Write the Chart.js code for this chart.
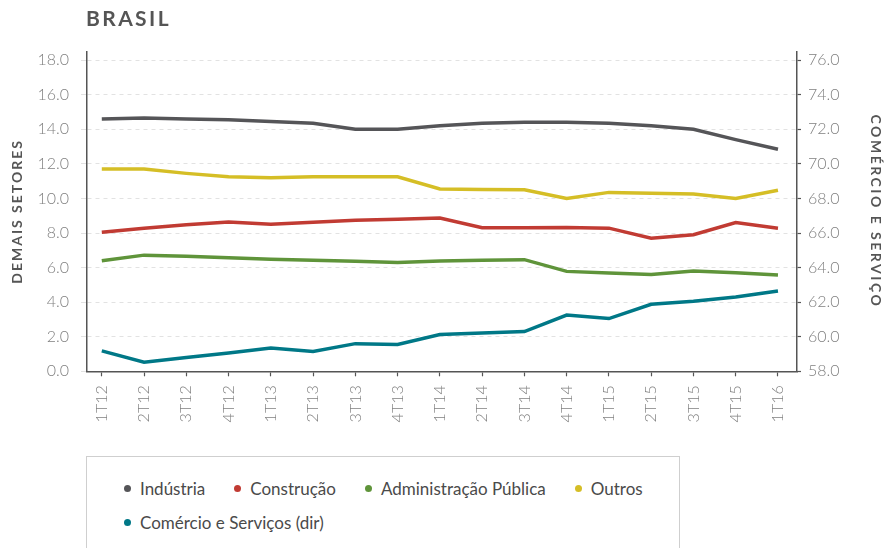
<!DOCTYPE html>
<html>
<head>
<meta charset="utf-8">
<script src="https://cdn.jsdelivr.net/npm/chart.js@4/dist/chart.umd.min.js"></script>
<style>
  body { margin: 0; background: #fff; font-family: Lato, "Open Sans", sans-serif; }
  #wrap { position: relative; width: 885px; height: 548px; overflow: hidden; }
  #title { position: absolute; left: 86px; top: 5px; font-size: 21px; font-weight: 700; color: #555; letter-spacing: 2.4px; }
  #chart { position: absolute; left: 0; top: 0; }
  #legend {
    position: absolute; left: 86px; top: 456px; width: 555px; height: 120px;
    border: 1px solid #cfcfcf; padding: 21px 0 0 37px;
    display: flex; flex-wrap: wrap; column-gap: 29px; row-gap: 14px; align-content: flex-start;
  }
  .item { display: flex; align-items: center; font-size: 17px; color: #4a4a4a; height: 20px; }
  .dot { width: 7px; height: 7px; border-radius: 50%; margin-right: 9px; }
</style>
</head>
<body>
<div id="wrap">
  <canvas id="chart" width="885" height="450"></canvas>
  <div id="title">BRASIL</div>
  <div id="legend"></div>
</div>
<script>
const labels = ['1T12','2T12','3T12','4T12','1T13','2T13','3T13','4T13','1T14','2T14','3T14','4T14','1T15','2T15','3T15','4T15','1T16']

// left axis (demais setores)
const industria = [14.6, 14.65, 14.6, 14.55, 14.45, 14.35, 14.0, 14.0, 14.2, 14.35, 14.4, 14.4, 14.35, 14.2, 14.0, 13.4, 12.85]
const construcao = [8.05, 8.27, 8.48, 8.63, 8.5, 8.62, 8.74, 8.8, 8.87, 8.3, 8.3, 8.32, 8.28, 7.7, 7.9, 8.6, 8.28]
const admPublica = [6.39, 6.72, 6.65, 6.57, 6.48, 6.42, 6.36, 6.3, 6.38, 6.42, 6.46, 5.78, 5.68, 5.6, 5.8, 5.7, 5.57]
const outros = [11.7, 11.7, 11.45, 11.25, 11.2, 11.25, 11.25, 11.25, 10.55, 10.52, 10.5, 10.0, 10.35, 10.3, 10.25, 10.0, 10.47]
// right axis
const comercio = [59.18, 58.52, 58.8, 59.06, 59.35, 59.15, 59.6, 59.55, 60.13, 60.22, 60.3, 61.25, 61.05, 61.88, 62.05, 62.3, 62.65]

const leftTicks = [0, 2, 4, 6, 8, 10, 12, 14, 16, 18]
const rightTicks = [58, 60, 62, 64, 66, 68, 70, 72, 74, 76]

const tickFont = { family: 'Lato', size: 16, weight: '300' }
const titleFont = { family: 'Lato', size: 14, weight: 'bold' }

function points(values) {
  return values.map((v, i) => ({ x: i, y: v }))
}

function series(label, values, color, axis) {
  return {
    label: label,
    data: points(values),
    borderColor: color,
    backgroundColor: color,
    borderWidth: 3.5,
    pointRadius: 0,
    tension: 0,
    yAxisID: axis,
  }
}

// canvas text has no letter-spacing option in Chart.js, so wrap the title draw
function spacedTitle(scale, spacing) {
  if (scale._spaced) return
  const draw = scale.drawTitle.bind(scale)
  scale.drawTitle = function () {
    this.ctx.save()
    this.ctx.letterSpacing = spacing
    draw()
    this.ctx.restore()
  }
  scale._spaced = true
}

const chart = new Chart(document.getElementById('chart'), {
  type: 'line',
  data: {
    datasets: [
      series('Indústria', industria, '#555558', 'y'),
      series('Construção', construcao, '#c13b33', 'y'),
      series('Administração Pública', admPublica, '#5f943a', 'y'),
      series('Outros', outros, '#d5be26', 'y'),
      series('Comércio e Serviços (dir)', comercio, '#007887', 'y1'),
    ]
  },
  options: {
    responsive: false,
    animation: false,
    events: [],
    layout: { padding: { top: 51.5, left: 0, right: 0, bottom: 0 } },
    plugins: {
      legend: { display: false },
      tooltip: { enabled: false },
    },
    scales: {
      x: {
        type: 'linear',
        min: -0.35,
        max: 16.45,
        afterBuildTicks: (sc) => { sc.ticks = labels.map((_, i) => ({ value: i })) },
        afterFit: (sc) => { sc.height = 78.7 },
        ticks: {
          callback: (v) => labels[v],
          minRotation: 90,
          maxRotation: 90,
          autoSkip: false,
          padding: 9,
          color: '#808080',
          font: { family: 'Lato', size: 16, weight: '300' },
        },
        grid: { drawOnChartArea: false, tickLength: 5, tickColor: '#555', tickWidth: 1.2 },
        border: { color: '#555', width: 1.5 },
      },
      y: {
        position: 'left',
        min: 0,
        max: 18.5,
        afterBuildTicks: (sc) => { sc.ticks = leftTicks.map(v => ({ value: v })) },
        afterFit: (sc) => { sc.width = 87; spacedTitle(sc, '2px') },
        ticks: {
          callback: (v) => v.toFixed(1),
          padding: 12,
          color: '#808080',
          font: tickFont,
        },
        grid: { color: '#e2e2e2', lineWidth: 1, tickLength: 6, tickColor: '#e2e2e2' },
        border: { color: '#555', width: 1.5, dash: [4, 4] },
        title: {
          display: true,
          text: 'DEMAIS SETORES',
          color: '#555',
          font: titleFont,
          padding: { top: 9, bottom: 0 },
        },
      },
      y1: {
        position: 'right',
        min: 58,
        max: 76.5,
        afterBuildTicks: (sc) => { sc.ticks = rightTicks.map(v => ({ value: v })) },
        afterFit: (sc) => { sc.width = 88; spacedTitle(sc, '2.5px') },
        ticks: {
          callback: (v) => v.toFixed(1),
          padding: 7,
          color: '#808080',
          font: tickFont,
        },
        grid: { drawOnChartArea: false, tickLength: 4, tickColor: '#555', tickWidth: 1.2 },
        border: { color: '#555', width: 1.5 },
        title: {
          display: true,
          text: 'COMÉRCIO E SERVIÇO',
          color: '#555',
          font: titleFont,
          padding: { top: 1, bottom: 0 },
        },
      },
    }
  }
})

// html legend from the chart datasets
const legend = document.getElementById('legend')
chart.data.datasets.forEach((ds) => {
  const item = document.createElement('div')
  item.className = 'item'
  item.innerHTML = '<span class="dot" style="background:' + ds.borderColor + '"></span>' + ds.label
  legend.appendChild(item)
})
</script>
</body>
</html>
